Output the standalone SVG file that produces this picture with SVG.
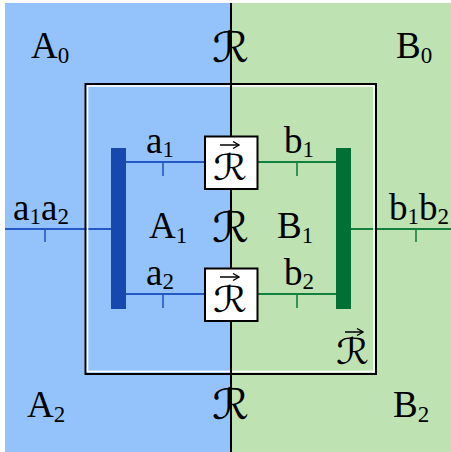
<svg xmlns="http://www.w3.org/2000/svg" width="451" height="452" viewBox="0 0 451 452">
<defs>
<marker id="vh" viewBox="0 0 8 8" refX="7" refY="4" markerWidth="8" markerHeight="8" markerUnits="userSpaceOnUse" orient="auto">
<path d="M1,0.5 L7,4 L1,7.5" fill="none" stroke="#000" stroke-width="1.3"/>
</marker>
</defs>
<style>
text{font-family:"Liberation Serif","DejaVu Serif",serif;fill:#000}
.m{font-size:37px}
.s{font-size:23px}
.cal{font-family:"DejaVu Serif","DejaVu Sans",serif;font-size:42px}
.cs{font-family:"DejaVu Serif","DejaVu Sans",serif;font-size:36px}
.vec{stroke:#000;stroke-width:1.5;marker-end:url(#vh)}
.bl{stroke:#2458c4;stroke-width:2;fill:none}
.gl{stroke:#138040;stroke-width:2;fill:none}
.bt{stroke:#2458c4;stroke-width:1.6}
.gt{stroke:#138040;stroke-width:1.6}
.rbox{fill:#fff;stroke:#000;stroke-width:2}
</style>
<g id="background">
<rect x="5" y="3" width="226" height="449" fill="#94c3fb"/>
<rect x="231" y="3" width="220" height="449" fill="#bee2b2"/>
</g>
<g id="connectors">
<line class="bl" x1="5" y1="229" x2="111" y2="229"/>
<line class="bt" x1="45" y1="229" x2="45" y2="242"/>
<line class="gl" x1="351" y1="229" x2="451" y2="229"/>
<line class="gt" x1="416" y1="229" x2="416" y2="242"/>
<line class="bl" x1="126" y1="162" x2="205" y2="162"/>
<line class="bt" x1="163" y1="162" x2="163" y2="176"/>
<line class="bl" x1="126" y1="294" x2="205" y2="294"/>
<line class="bt" x1="163" y1="294" x2="163" y2="308"/>
<line class="gl" x1="257" y1="162" x2="336" y2="162"/>
<line class="gt" x1="297" y1="162" x2="297" y2="176"/>
<line class="gl" x1="257" y1="294" x2="336" y2="294"/>
<line class="gt" x1="297" y1="294" x2="297" y2="308"/>
</g>
<g id="outer-box">
<rect x="85.5" y="84" width="290.5" height="290" fill="none" stroke="#000" stroke-width="2"/>
<rect x="87.5" y="86" width="286.5" height="285.5" fill="none" stroke="#fff" stroke-width="1.6"/>
</g>
<g id="divider">
<line x1="231" y1="3" x2="231" y2="452" stroke="#000" stroke-width="2"/>
</g>
<g id="bar-A">
<rect x="111" y="148" width="15" height="161" fill="#1748b0"/>
</g>
<g id="bar-B">
<rect x="336" y="148" width="15" height="161" fill="#007035"/>
</g>
<g id="R-box-top">
<rect class="rbox" x="205" y="136.5" width="52.5" height="52.5"/>
<text class="cs" x="213" y="180" textLength="34" lengthAdjust="spacingAndGlyphs">ℛ</text>
<line class="vec" x1="220" y1="145" x2="239" y2="145"/>
</g>
<g id="R-box-bottom">
<rect class="rbox" x="205" y="268.5" width="52.5" height="52.5"/>
<text class="cs" x="213" y="312" textLength="34" lengthAdjust="spacingAndGlyphs">ℛ</text>
<line class="vec" x1="220" y1="277" x2="239" y2="277"/>
</g>
<g id="labels">
<text class="m" x="31" y="58">A<tspan class="s" dy="5">0</tspan></text>
<text class="m" x="396" y="58">B<tspan class="s" dy="5">0</tspan></text>
<text class="cal" x="212" y="62" textLength="37" lengthAdjust="spacingAndGlyphs">ℛ</text>
<text class="m" x="146" y="153">a<tspan class="s" dy="4">1</tspan></text>
<text class="m" x="284" y="153">b<tspan class="s" dy="4">1</tspan></text>
<text class="m" x="13" y="220">a<tspan class="s" dy="4">1</tspan><tspan dy="-4">a</tspan><tspan class="s" dy="4">2</tspan></text>
<text class="m" x="389" y="220">b<tspan class="s" dy="4">1</tspan><tspan dy="-4">b</tspan><tspan class="s" dy="4">2</tspan></text>
<text class="m" x="149" y="238">A<tspan class="s" dy="5">1</tspan></text>
<text class="cal" x="212" y="242" textLength="37" lengthAdjust="spacingAndGlyphs">ℛ</text>
<text class="m" x="277" y="238">B<tspan class="s" dy="5">1</tspan></text>
<text class="m" x="146" y="285">a<tspan class="s" dy="4">2</tspan></text>
<text class="m" x="284" y="285">b<tspan class="s" dy="4">2</tspan></text>
<text class="cs" x="336" y="364" textLength="33" lengthAdjust="spacingAndGlyphs">ℛ</text>
<line class="vec" x1="345" y1="332" x2="363" y2="332"/>
<text class="m" x="27" y="417">A<tspan class="s" dy="5">2</tspan></text>
<text class="cal" x="212" y="419" textLength="37" lengthAdjust="spacingAndGlyphs">ℛ</text>
<text class="m" x="393" y="417">B<tspan class="s" dy="5">2</tspan></text>
</g>
</svg>
